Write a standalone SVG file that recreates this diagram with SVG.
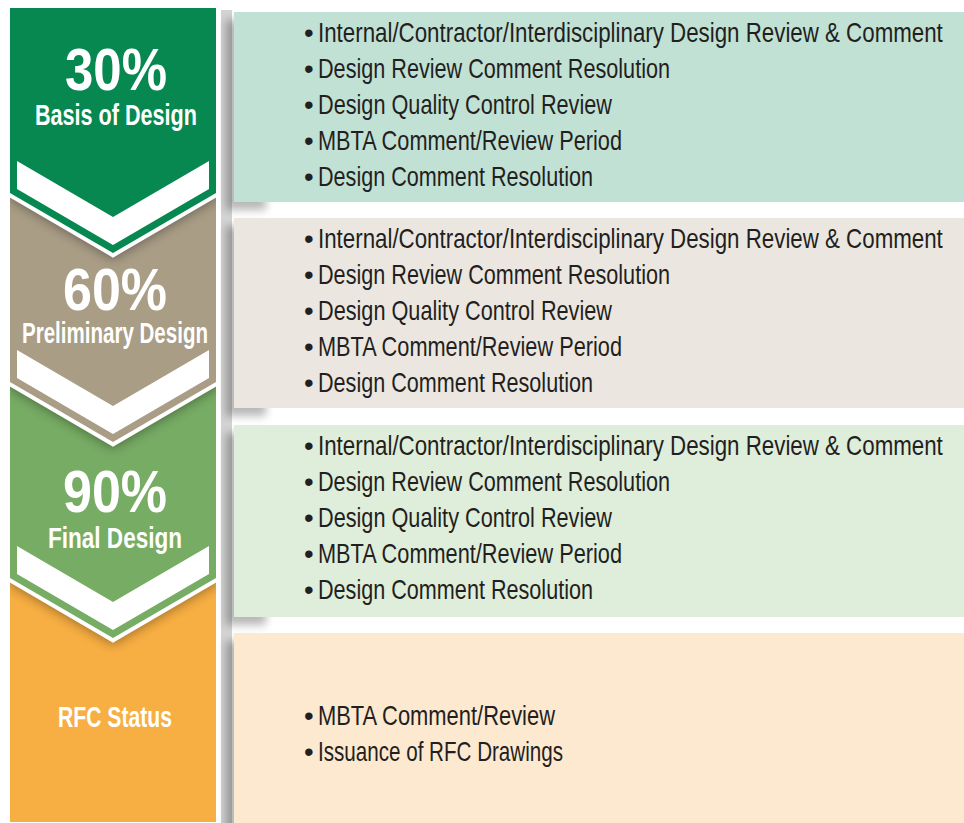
<svg xmlns="http://www.w3.org/2000/svg" width="964" height="823" viewBox="0 0 964 823">
<defs>
<style>
.pct{font-family:"Liberation Sans Narrow","Liberation Sans",sans-serif;font-weight:bold;font-size:60px;fill:#fff;text-anchor:middle}
.lbl{font-family:"Liberation Sans Narrow","Liberation Sans",sans-serif;font-weight:bold;font-size:29px;fill:#fff;text-anchor:middle}
.it{font-family:"Liberation Sans Narrow","Liberation Sans",sans-serif;font-size:27.5px;fill:#231f20}
.stage{stroke:#fff;stroke-width:8;paint-order:stroke;stroke-linejoin:miter}
.band{fill:#fff}
.sh{fill:#000;opacity:.38;filter:url(#blur)}
.bsh{fill:#000;opacity:.28;filter:url(#blur2)}
</style>
<filter id="blur" x="-20%" y="-20%" width="140%" height="140%"><feGaussianBlur stdDeviation="6"/></filter>
<filter id="blur2" x="-50%" y="-20%" width="200%" height="140%"><feGaussianBlur stdDeviation="4"/></filter>
<clipPath id="c3"><polygon points="10,350 216,350 216,578 113,638 10,578"/></clipPath>
<clipPath id="c2"><polygon points="10,150 216,150 216,382 113,442 10,382"/></clipPath>
<clipPath id="c4"><rect x="10" y="550" width="206" height="272"/></clipPath>
</defs>
<rect width="964" height="823" fill="#fff"/>
<rect x="221" y="10" width="11" height="813" fill="#d3d3d3"/>

<g id="box-30">
<rect class="bsh" x="226" y="20" width="40" height="190"/>
<rect x="234" y="12" width="730" height="190" fill="#c1e1d5"/>
<text class="it" x="304" y="42">•</text><text class="it" transform="translate(318,42) scale(0.8,1)" x="0" y="0" textLength="781" lengthAdjust="spacingAndGlyphs">Internal/Contractor/Interdisciplinary Design Review &amp; Comment</text>
<text class="it" x="304" y="78">•</text><text class="it" x="318" y="78" textLength="352" lengthAdjust="spacingAndGlyphs">Design Review Comment Resolution</text>
<text class="it" x="304" y="114">•</text><text class="it" x="318" y="114" textLength="294" lengthAdjust="spacingAndGlyphs">Design Quality Control Review</text>
<text class="it" x="304" y="150">•</text><text class="it" x="318" y="150" textLength="304" lengthAdjust="spacingAndGlyphs">MBTA Comment/Review Period</text>
<text class="it" x="304" y="186">•</text><text class="it" x="318" y="186" textLength="275" lengthAdjust="spacingAndGlyphs">Design Comment Resolution</text>
</g>

<g id="box-60">
<rect class="bsh" x="226" y="226" width="40" height="190"/>
<rect x="234" y="218" width="730" height="190" fill="#ebe7e0"/>
<text class="it" x="304" y="248">•</text><text class="it" transform="translate(318,248) scale(0.8,1)" x="0" y="0" textLength="781" lengthAdjust="spacingAndGlyphs">Internal/Contractor/Interdisciplinary Design Review &amp; Comment</text>
<text class="it" x="304" y="284">•</text><text class="it" x="318" y="284" textLength="352" lengthAdjust="spacingAndGlyphs">Design Review Comment Resolution</text>
<text class="it" x="304" y="320">•</text><text class="it" x="318" y="320" textLength="294" lengthAdjust="spacingAndGlyphs">Design Quality Control Review</text>
<text class="it" x="304" y="356">•</text><text class="it" x="318" y="356" textLength="304" lengthAdjust="spacingAndGlyphs">MBTA Comment/Review Period</text>
<text class="it" x="304" y="392">•</text><text class="it" x="318" y="392" textLength="275" lengthAdjust="spacingAndGlyphs">Design Comment Resolution</text>
</g>

<g id="box-90">
<rect class="bsh" x="226" y="433" width="40" height="192"/>
<rect x="234" y="425" width="730" height="192" fill="#dfeddb"/>
<text class="it" x="304" y="455">•</text><text class="it" transform="translate(318,455) scale(0.8,1)" x="0" y="0" textLength="781" lengthAdjust="spacingAndGlyphs">Internal/Contractor/Interdisciplinary Design Review &amp; Comment</text>
<text class="it" x="304" y="491">•</text><text class="it" x="318" y="491" textLength="352" lengthAdjust="spacingAndGlyphs">Design Review Comment Resolution</text>
<text class="it" x="304" y="527">•</text><text class="it" x="318" y="527" textLength="294" lengthAdjust="spacingAndGlyphs">Design Quality Control Review</text>
<text class="it" x="304" y="563">•</text><text class="it" x="318" y="563" textLength="304" lengthAdjust="spacingAndGlyphs">MBTA Comment/Review Period</text>
<text class="it" x="304" y="599">•</text><text class="it" x="318" y="599" textLength="275" lengthAdjust="spacingAndGlyphs">Design Comment Resolution</text>
</g>

<g id="box-rfc">
<rect class="bsh" x="226" y="641" width="40" height="190"/>
<rect x="234" y="633" width="730" height="190" fill="#fde9d0"/>
<text class="it" x="304" y="725">•</text><text class="it" x="318" y="725" textLength="237" lengthAdjust="spacingAndGlyphs">MBTA Comment/Review</text>
<text class="it" x="304" y="761">•</text><text class="it" x="318" y="761" textLength="245" lengthAdjust="spacingAndGlyphs">Issuance of RFC Drawings</text>
</g>

<g id="stage-rfc">
<rect x="10" y="550" width="206" height="272" fill="#f7ae42"/>
<g clip-path="url(#c4)"><polygon class="sh" points="10,356 216,356 216,584 113,644 10,584"/></g>
<text class="lbl" x="115" y="727" textLength="114" lengthAdjust="spacingAndGlyphs">RFC Status</text>
</g>

<g id="stage-90">
<polygon class="stage" fill="#77ac64" points="10,350 216,350 216,578 113,638 10,578"/>
<g clip-path="url(#c3)"><polygon class="sh" points="10,156 216,156 216,388 113,448 10,388"/></g>
<polygon class="band" points="17,546 113,602 209,546 209,574 113,630 17,574"/>
<text class="pct" x="115" y="512" textLength="104" lengthAdjust="spacingAndGlyphs">90%</text>
<text class="lbl" x="115" y="548" textLength="134" lengthAdjust="spacingAndGlyphs">Final Design</text>
</g>

<g id="stage-60">
<polygon class="stage" fill="#a99d86" points="10,150 216,150 216,382 113,442 10,382"/>
<g clip-path="url(#c2)"><polygon class="sh" points="10,14 216,14 216,199 113,259 10,199"/></g>
<polygon class="band" points="17,350 113,406 209,350 209,378 113,434 17,378"/>
<text class="pct" x="115" y="310" textLength="104" lengthAdjust="spacingAndGlyphs">60%</text>
<text class="lbl" x="115" y="343" textLength="186" lengthAdjust="spacingAndGlyphs">Preliminary Design</text>
</g>

<g id="stage-30">
<polygon class="stage" fill="#068850" points="10,8 216,8 216,193 113,253 10,193"/>
<polygon class="band" points="17,161 113,217 209,161 209,189 113,245 17,189"/>
<text class="pct" x="116" y="90" textLength="102" lengthAdjust="spacingAndGlyphs">30%</text>
<text class="lbl" x="116" y="125" textLength="162" lengthAdjust="spacingAndGlyphs">Basis of Design</text>
</g>
</svg>
